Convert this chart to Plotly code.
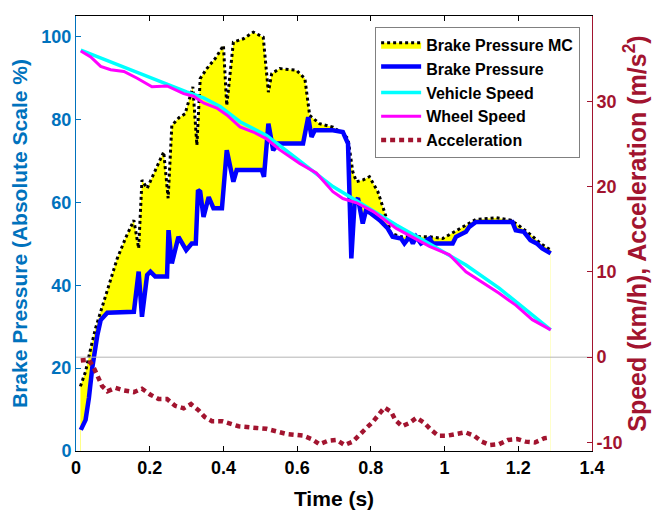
import plotly.graph_objects as go

# ---------------- data ----------------
t_mc = [0.012, 0.026, 0.040, 0.053, 0.071, 0.094, 0.112, 0.135, 0.157, 0.170, 0.179, 0.193,
        0.215, 0.238, 0.250, 0.260, 0.280, 0.296, 0.317, 0.328, 0.337, 0.355, 0.380, 0.400,
        0.409, 0.427, 0.454, 0.481, 0.508, 0.522, 0.531, 0.553, 0.598, 0.621, 0.634, 0.661,
        0.697, 0.724, 0.738, 0.751, 0.761, 0.778, 0.796, 0.819, 0.837, 0.855, 0.882, 0.959,
        0.995, 1.026, 1.060, 1.085, 1.140, 1.180, 1.200, 1.235, 1.260, 1.288]
mc_pressure = [15.6, 19.2, 24.8, 29.6, 34.8, 41.7, 46.5, 51.5, 55.7, 48.9, 65.4, 63.4,
               67.5, 72.2, 61.0, 78.6, 80.5, 81.4, 87.9, 73.8, 89.9, 92.3, 95.0, 97.9,
               83.4, 98.7, 99.5, 101.1, 99.9, 86.6, 91.1, 92.3, 91.9, 89.9, 81.0, 79.0,
               78.2, 76.6, 75.4, 67.4, 65.0, 65.4, 66.2, 62.6, 57.7, 52.5, 51.7, 51.7,
               51.3, 52.9, 54.5, 55.9, 56.3, 55.7, 54.5, 52.1, 50.1, 48.5]

t_bp = [0.013, 0.026, 0.035, 0.044, 0.058, 0.067, 0.085, 0.157, 0.170, 0.179, 0.193, 0.202,
        0.215, 0.247, 0.251, 0.260, 0.278, 0.299, 0.314, 0.325, 0.331, 0.337, 0.346, 0.360,
        0.373, 0.396, 0.409, 0.427, 0.436, 0.504, 0.510, 0.522, 0.535, 0.549, 0.616, 0.630,
        0.639, 0.648, 0.697, 0.724, 0.738, 0.747, 0.756, 0.765, 0.778, 0.787, 0.801, 0.824,
        0.846, 0.859, 0.882, 0.891, 0.905, 0.914, 0.923, 0.936, 0.959, 0.968, 1.022, 1.031,
        1.058, 1.067, 1.085, 1.184, 1.193, 1.215, 1.233, 1.250, 1.265, 1.288]
brake_pressure = [5.1, 7.5, 12.8, 20.0, 28.0, 31.6, 33.4, 33.6, 43.3, 32.4, 42.5, 43.3,
                  42.1, 42.1, 53.3, 45.3, 51.7, 48.5, 50.1, 50.1, 63.0, 62.6, 56.5, 61.3,
                  58.6, 58.6, 72.6, 65.0, 67.8, 67.8, 66.2, 79.0, 72.6, 74.2, 74.2, 80.6,
                  75.8, 77.4, 77.4, 77.0, 74.2, 46.5, 60.1, 61.0, 54.9, 58.1, 57.3, 55.7,
                  53.7, 51.7, 51.3, 50.1, 51.7, 50.1, 51.7, 50.1, 51.3, 50.1, 50.1, 51.7,
                  52.9, 54.1, 55.3, 55.3, 53.3, 52.9, 50.9, 50.1, 48.9, 47.7]

t_vs = [0.013, 0.100, 0.200, 0.300, 0.346, 0.391, 0.445, 0.517, 0.607, 0.697, 0.778,
        0.869, 0.959, 1.058, 1.148, 1.238, 1.288]
vehicle_speed = [36.0, 34.5, 32.8, 31.1, 30.4, 29.4, 27.6, 26.0, 23.0, 20.0, 17.9,
                 15.5, 13.3, 10.8, 8.1, 5.0, 3.2]

t_ws = [0.013, 0.040, 0.067, 0.094, 0.130, 0.166, 0.206, 0.247, 0.292, 0.319, 0.346,
        0.382, 0.409, 0.445, 0.481, 0.517, 0.553, 0.607, 0.652, 0.697, 0.724, 0.761,
        0.806, 0.869, 0.959, 1.013, 1.058, 1.148, 1.193, 1.238, 1.288]
wheel_speed = [35.9, 35.2, 34.1, 33.7, 33.5, 32.7, 31.7, 31.8, 30.9, 30.6, 29.8,
               29.2, 28.4, 27.0, 26.4, 25.6, 24.3, 22.7, 21.6, 19.4, 18.6, 18.1,
               17.1, 15.1, 13.0, 12.0, 10.0, 7.5, 6.1, 4.4, 3.2]

t_acc = [0.013, 0.035, 0.049, 0.058, 0.071, 0.085, 0.107, 0.130, 0.157, 0.179, 0.202,
         0.224, 0.247, 0.269, 0.292, 0.312, 0.332, 0.349, 0.369, 0.396, 0.418, 0.441,
         0.490, 0.517, 0.544, 0.571, 0.616, 0.639, 0.661, 0.684, 0.707, 0.729, 0.751,
         0.768, 0.788, 0.805, 0.821, 0.837, 0.855, 0.867, 0.885, 0.905, 0.924, 0.945,
         0.963, 0.983, 1.008, 1.032, 1.056, 1.080, 1.101, 1.123, 1.148, 1.172, 1.197,
         1.220, 1.245, 1.271, 1.288]
acceleration = [-0.4, -0.3, -1.3, -2.3, -3.4, -4.0, -3.6, -3.9, -4.1, -3.7, -4.4,
                -4.9, -4.9, -5.7, -6.0, -5.5, -6.2, -7.0, -7.5, -7.5, -7.8, -8.1,
                -8.3, -8.4, -8.7, -9.0, -9.2, -9.6, -10.2, -9.8, -9.7, -10.3, -9.9,
                -9.1, -8.3, -7.6, -6.7, -5.9, -6.4, -7.4, -8.1, -7.7, -7.1, -7.7,
                -8.5, -9.2, -9.2, -9.0, -8.8, -9.2, -9.9, -10.3, -10.2, -9.7, -9.6,
                -9.9, -10.0, -9.5, -9.4]

x_ticks = [0, 0.2, 0.4, 0.6, 0.8, 1, 1.2, 1.4]
x_tick_labels = ["0", "0.2", "0.4", "0.6", "0.8", "1", "1.2", "1.4"]
y_left_ticks = [0, 20, 40, 60, 80, 100]
y_right_ticks = [-10, 0, 10, 20, 30, 40]
y_right_tick_labels = ["-10", "0", "10", "20", "30", "40"]

# ---------------- style ----------------
FONT = "Liberation Sans, Arial, Helvetica, sans-serif"
BLUE_AX = "#0072BD"
RED_AX = "#A2142F"
TICK_SIZE = 18
TITLE_SIZE = 21

fig = go.Figure()

fig.add_trace(go.Scatter(
    x=t_mc, y=mc_pressure, name="Brake Pressure MC", mode="lines",
    fill="tozeroy", fillcolor="#FFFF00",
    line=dict(color="black", width=3, dash="dot"), yaxis="y"))

fig.add_trace(go.Scatter(
    x=t_bp, y=brake_pressure, name="Brake Pressure", mode="lines",
    fill="tozeroy", fillcolor="white",
    line=dict(color="#0000FF", width=4.5), yaxis="y"))

# zero line of the right axis
fig.add_trace(go.Scatter(
    x=[0, 1.4], y=[0, 0], mode="lines", showlegend=False, hoverinfo="skip",
    line=dict(color="#B4B4B4", width=1), yaxis="y2"))

fig.add_trace(go.Scatter(
    x=t_vs, y=vehicle_speed, name="Vehicle Speed", mode="lines",
    line=dict(color="#00FFFF", width=3.5), yaxis="y2"))

fig.add_trace(go.Scatter(
    x=t_ws, y=wheel_speed, name="Wheel Speed", mode="lines",
    line=dict(color="#FF00FF", width=3), yaxis="y2"))

fig.add_trace(go.Scatter(
    x=t_acc, y=acceleration, name="Acceleration", mode="lines",
    line=dict(color=RED_AX, width=4.5, dash="5px,4px"), yaxis="y2"))

fig.update_layout(
    width=662, height=513,
    margin=dict(l=68, r=78, t=8, b=70),
    paper_bgcolor="white", plot_bgcolor="white",
    font=dict(family=FONT, size=17, color="black", weight="bold"),
    showlegend=True,
    legend=dict(
        x=0.977, y=0.975, xanchor="right", yanchor="top",
        bgcolor="white", bordercolor="#808080", borderwidth=1,
        font=dict(family=FONT, size=16, color="black", weight="bold"),
        tracegroupgap=0, itemwidth=40),
    xaxis=dict(
        range=[0, 1.4], tickvals=x_ticks, ticktext=x_tick_labels,
        ticks="inside", ticklen=5, tickwidth=1, tickcolor="black",
        showline=True, linecolor="black", linewidth=1, mirror="ticks",
        showgrid=False, zeroline=False,
        tickfont=dict(family=FONT, size=TICK_SIZE, color="black", weight="bold"),
        title=dict(text="Time (s)", standoff=14,
                   font=dict(family=FONT, size=TITLE_SIZE, color="black", weight="bold")),
        automargin=False),
    yaxis=dict(
        range=[0, 105], tickvals=y_left_ticks,
        ticks="inside", ticklen=5, tickwidth=1, tickcolor=BLUE_AX,
        showline=True, linecolor=BLUE_AX, linewidth=1,
        showgrid=False, zeroline=False,
        tickfont=dict(family=FONT, size=TICK_SIZE, color=BLUE_AX, weight="bold"),
        title=dict(text="Brake Pressure (Absolute Scale %)", standoff=8,
                   font=dict(family=FONT, size=TITLE_SIZE, color=BLUE_AX, weight="bold")),
        automargin=False),
    yaxis2=dict(
        range=[-11, 40], tickvals=y_right_ticks, ticktext=y_right_tick_labels,
        overlaying="y", side="right",
        ticks="inside", ticklen=5, tickwidth=1, tickcolor=RED_AX,
        showline=True, linecolor=RED_AX, linewidth=1,
        showgrid=False, zeroline=False,
        tickfont=dict(family=FONT, size=TICK_SIZE, color=RED_AX, weight="bold"),
        title=dict(text="Speed (km/h), Acceleration (m/s<sup>2</sup>)", standoff=6,
                   font=dict(family=FONT, size=25, color=RED_AX, weight="bold")),
        automargin=False),
)

fig.write_html("out.html", config={"displayModeBar": False})
